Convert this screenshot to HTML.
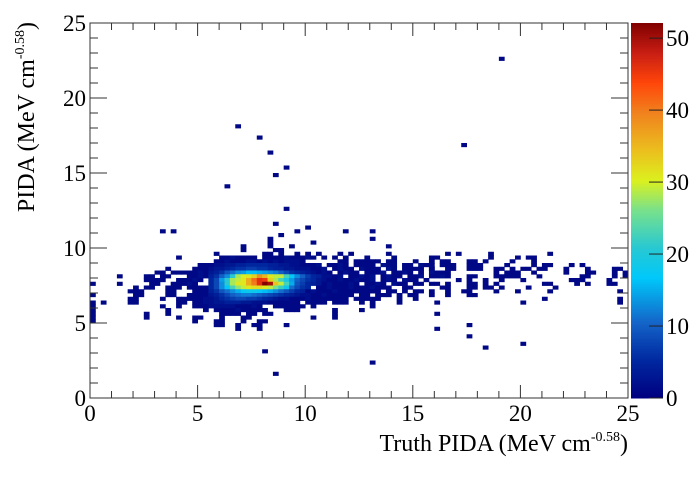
<!DOCTYPE html>
<html><head><meta charset="utf-8"><style>
html,body{margin:0;padding:0;background:#fff;}
text{font-family:"Liberation Serif","DejaVu Serif",serif !important;fill:#000;}
</style></head><body>
<svg id="chart" width="698" height="475" viewBox="0 0 698 475" xmlns="http://www.w3.org/2000/svg">
<g id="cells"></g>
<g id="cbar"></g>
<g id="axes"></g>
<g font-size="23" text-anchor="middle" style="font-family:'Liberation Serif',serif">
<text x="90" y="421" style="font-family:'Liberation Serif',serif">0</text>
<text x="197.6" y="421" style="font-family:'Liberation Serif',serif">5</text>
<text x="305.2" y="421" style="font-family:'Liberation Serif',serif">10</text>
<text x="412.8" y="421" style="font-family:'Liberation Serif',serif">15</text>
<text x="520.4" y="421" style="font-family:'Liberation Serif',serif">20</text>
<text x="628" y="421" style="font-family:'Liberation Serif',serif">25</text>
</g>
<g font-size="23" text-anchor="end">
<text x="86" y="406" style="font-family:'Liberation Serif',serif">0</text>
<text x="86" y="331" style="font-family:'Liberation Serif',serif">5</text>
<text x="86" y="256" style="font-family:'Liberation Serif',serif">10</text>
<text x="86" y="181" style="font-family:'Liberation Serif',serif">15</text>
<text x="86" y="106" style="font-family:'Liberation Serif',serif">20</text>
<text x="86" y="31" style="font-family:'Liberation Serif',serif">25</text>
</g>
<g font-size="23">
<text x="666" y="406" style="font-family:'Liberation Serif',serif">0</text>
<text x="666" y="334" style="font-family:'Liberation Serif',serif">10</text>
<text x="666" y="262" style="font-family:'Liberation Serif',serif">20</text>
<text x="666" y="190" style="font-family:'Liberation Serif',serif">30</text>
<text x="666" y="118" style="font-family:'Liberation Serif',serif">40</text>
<text x="666" y="46" style="font-family:'Liberation Serif',serif">50</text>
</g>
<text x="628" y="451" text-anchor="end" font-size="24" style="font-family:'Liberation Serif',serif">Truth PIDA (MeV cm<tspan font-size="14" dy="-10">-0.58</tspan><tspan dy="10">)</tspan></text>
<text transform="translate(34,22) rotate(-90)" text-anchor="end" font-size="24" style="font-family:'Liberation Serif',serif">PIDA (MeV cm<tspan font-size="14" dy="-10">-0.58</tspan><tspan dy="10">)</tspan></text>
</svg>
<script>
// ---- data: y-bin index and "xStart:counts" segments (counts base62: 0-9,a-z,A-Z) ----
const rowBins = [90,72,69,67,65,61,59,56,50,46,45,44,43,42,41,40,39,38,37,36,35,34,33,32,31,30,29,28,27,26,25,24,23,22,21,20,19,18,16,14,13,12,9,6];
const rowSegs = [
"76:1","27:1","31:1","69:1","33:1","36:1","34:1","25:1","36:1","34:1","40:1",
"13:1 15:1 38:1 47:1 52:1","35:1","33:1 52:1","33:1 41:1","28:1 33:1 37:1 55:1","28:1 34:11",
"23:1 32:11 35:1 38:1 40:1 42:1 46:1 48:1 55:1 66:1 68:1 74:1 85:1",
"16:1 24:1121 28:111.11 34:11211121 43:1 45:1 47:1 51:1 56:1 63:11 74:1 79:1 81:11",
"23:11211122121212221 46:11.11 51:111.1 56:1 60:1 63:1.11 70:11 73:1 78:1 82:1",
"20:111 22:1223344555544332211 41:12.1121.11 51:11.211.11.21 63:1 65:111 70:111 77:1 82:1.11 89:1 91:1",
"14:1 19:111 22:2334566776654433222 41:112.1211.21 52:11.21.11 60:11.1 63:1 66:11 70:111 75:11.1 80:11 83:11 88:1 92:1 97:11",
"12:11.111 18:1121 22:3469bdeggfedca865432 42:121.1211.1 52:112.1121.1.211 66:1 75:1.111 82:1 88:1 92:11 97:1 99:1",
"5:1 10:11.11 18:1121 22:46adlsuvxCzvttnhda754 43:2212.112 51:12.1211.112.1121 70:11 75:111 78:11 83:1 91:11 97:1 99:1",
"10:1 11:111 16:11121 22:58elstvAFKJxsnjea8653 43:21121121 51:12.121.211.1 68:1 70:1 73:1 76:1 80:1 89:111 96:1",
"0:1 5:1 11:11 15:11121 22:58dlsvvAEKQOytnf97543 43:1211121 51:1121.21 57:11.11 63:11.1 70:11 73:1 75:1 84:11 90:1 92:1 96:11",
"8:1 10:11 14:111 18:1111 22:58dhnrtvwwvtqmib865 42:11211121 50:11211 55:1 58:11 65:11 70:11 73:11 76:1 81:1 86:1",
"7:1 8:11 14:11 19:111 22:469bdfhiihgfdb9754 40:1211121111 50:1111 52:1 55:11 58:1.11 63:1 66:1 69:11 75:1 79:1 85:1 98:1",
"0:1 8:11 14:11 18:11111 22:3468abccba987654322 41:11211111 50:11.1 54:11 57:1.11 63:1 66:1 70:11",
"7:11 13:1 16:1111 20:122356788776543221 38:1121111111 49:111 52:11 57:1 60:1 84:1 98:1",
"0:1 2:1 7:11 16:11 19:11223344433222111 36:111.1111 45:111 50:1 52:1 57:1 64:1 80:1 98:1",
"0:1 13:1 16:1 19:1112222211121 34:11111 39:1 41:1 52:1",
"0:1 14:1 21:1.1111211111 36:111 45:1 50:1",
"0:1 10:1 14:1 24:11 26:11 29:11 32:11 45:1 64:1",
"0:1 10:1 16:1 19:11 24:1 28:11 41:1 45:1",
"0:1 19:1 23:11 28:1 31:11",
"23:11 27:1 30:11 36:1 70:1",
"27:1 31:1 64:1","70:1","80:1","73:1","32:1","52:1","34:1"
];
const zTicks = [0,10,20,30,40,50];
const zMax = 52.1;

// ---- geometry ----
const X0=90,X1=628,Y0=398,Y1=23,NB=100,RANGE=25;
const sx=v=>X0+(X1-X0)*v/RANGE, sy=v=>Y0-(Y0-Y1)*v/RANGE;
const CB0=631,CB1=663, sz=v=>Y0-(Y0-Y1)*v/zMax;
const NS="http://www.w3.org/2000/svg";
const B62="0123456789abcdefghijklmnopqrstuvwxyzABCDEFGHIJKLMNOPQRSTUVWXYZ";
const stops=[[0,[0,0,128]],[0.1,[0,40,160]],[0.2,[20,100,200]],[0.32,[0,200,250]],[0.4,[40,200,210]],[0.5,[120,225,140]],[0.58,[220,240,30]],[0.66,[235,190,30]],[0.76,[240,130,30]],[0.84,[255,70,10]],[0.92,[200,30,20]],[1,[128,0,0]]];
function col(t){t=Math.max(0,Math.min(1,t));for(let i=1;i<stops.length;i++){if(t<=stops[i][0]){const a=stops[i-1],b=stops[i],f=(t-a[0])/(b[0]-a[0]);return 'rgb('+a[1].map((c,k)=>Math.round(c+(b[1][k]-c)*f)).join(',')+')';}}return 'rgb(128,0,0)';}
function mk(tag,attrs,parent){const e=document.createElementNS(NS,tag);for(const k in attrs)e.setAttribute(k,attrs[k]);parent.appendChild(e);return e;}

const cells=document.getElementById('cells');
const bw=RANGE/NB;
rowBins.forEach((yb,ri)=>{
  rowSegs[ri].split(' ').forEach(seg=>{
    const [s,str]=seg.split(':');const st=+s;
    for(let i=0;i<str.length;i++){
      if(str[i]==='.')continue;
      const c=B62.indexOf(str[i]); if(c<=0)continue;
      const xb=st+i;
      const x=sx(xb*bw), y=sy((yb+1)*bw);
      const r=mk('rect',{x:x.toFixed(2),y:y.toFixed(2),width:(sx(bw)-X0+0.4).toFixed(2),height:(sy(0)-sy(bw)+0.4).toFixed(2),fill:col(c/zMax)},cells);
      
      
    }
  });
});

// color bar
const cb=document.getElementById('cbar');
for(let i=0;i<200;i++){
  const r=mk('rect',{x:CB0,y:(Y1+(Y0-Y1)*i/200).toFixed(2),width:CB1-CB0,height:((Y0-Y1)/200+0.5).toFixed(2),fill:col(1-(i+0.5)/200)},cb);
  
  
}
zTicks.forEach(v=>{
  const y=sz(v);
  mk('line',{x1:CB1-14,x2:CB1,y1:y,y2:y,stroke:'#222','stroke-width':1},cb);
});

// axes
const ax=document.getElementById('axes');
mk('rect',{x:X0,y:Y1,width:X1-X0,height:Y0-Y1,fill:'none',stroke:'#333','stroke-width':1},ax);
for(let v=0;v<=25;v++){
  const maj=v%5===0, x=sx(v), lx=maj?13:7, y=sy(v), ly=maj?17:8;
  mk('line',{x1:x,x2:x,y1:Y0,y2:Y0-lx,stroke:'#333'},ax);
  mk('line',{x1:x,x2:x,y1:Y1,y2:Y1+lx,stroke:'#333'},ax);
  mk('line',{x1:X0,x2:X0+ly,y1:y,y2:y,stroke:'#333'},ax);
  mk('line',{x1:X1,x2:X1-ly,y1:y,y2:y,stroke:'#333'},ax);
}
</script>
</body></html>
